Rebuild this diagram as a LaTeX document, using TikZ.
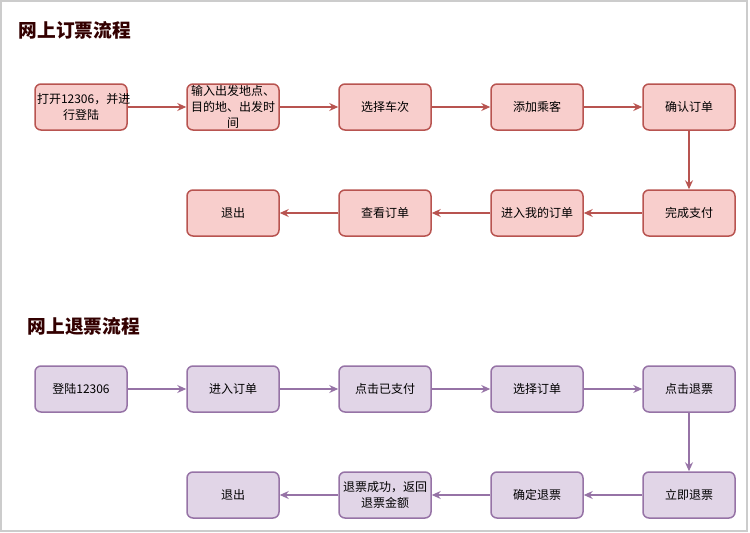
\documentclass[tikz,border=0pt]{standalone}
\usepackage{fontspec}
\setmainfont{Noto Sans CJK SC}
\usetikzlibrary{positioning,arrows.meta}
\definecolor{rfill}{HTML}{F8CECC}
\definecolor{rline}{HTML}{B85450}
\definecolor{pfill}{HTML}{E1D5E7}
\definecolor{pline}{HTML}{9673A6}
\definecolor{ttl}{HTML}{330000}
\tikzset{
  bx/.style={rectangle, rounded corners=6pt, minimum width=92pt, minimum height=46pt, text width=88pt, align=center, inner sep=1pt, line width=1.5pt, font=\fontsize{12}{14.5}\selectfont},
  bk/.style={bx, draw=rline, fill=rfill},
  rf/.style={bx, draw=pline, fill=pfill},
  ttl/.style={anchor=west, text=ttl, font=\bfseries\fontsize{18.7}{20}\selectfont},
  node distance=58.5pt
}

\begin{document}
\begin{tikzpicture}[x=1pt, y=-1pt, thick]
\useasboundingbox (0,0) rectangle (750,533);
\draw[black!20, line width=1.5pt] (1,1) rectangle (747,531);
% booking
\node[ttl] (t1) at (15,30) {网上订票流程};
\node[bk] (a1) at (81,107) {打开12306，并进\\[2pt]行登陆};
\node[bk, right=of a1] (a2) {输入出发地点、\\[1.5pt]目的地、出发时\\[1.5pt]间};
\node[bk, right=of a2] (a3) {选择车次};
\node[bk, right=of a3] (a4) {添加乘客};
\node[bk, right=of a4] (a5) {确认订单};
\node[bk, below=of a5] (a6) {完成支付};
\node[bk, left=of a6] (a7) {进入我的订单};
\node[bk, left=of a7] (a8) {查看订单};
\node[bk, left=of a8] (a9) {退出};
\path[draw=rline, line width=1.5pt, -{Stealth[length=9pt,width=8pt,inset=3pt]}]
(a1) edge (a2) (a2) edge (a3) (a3) edge (a4) (a4) edge (a5)
(a5) edge (a6) (a6) edge (a7) (a7) edge (a8) (a8) edge (a9);
% refund
\node[ttl] (t2) at (24,326) {网上退票流程};
\node[rf] (b1) at (81,389) {登陆12306};
\node[rf, right=of b1] (b2) {进入订单};
\node[rf, right=of b2] (b3) {点击已支付};
\node[rf, right=of b3] (b4) {选择订单};
\node[rf, right=of b4] (b5) {点击退票};
\node[rf, below=of b5] (b6) {立即退票};
\node[rf, left=of b6] (b7) {确定退票};
\node[rf, left=of b7] (b8) {退票成功，返回\\[2pt]退票金额};
\node[rf, left=of b8] (b9) {退出};
\path[draw=pline, line width=1.5pt, -{Stealth[length=9pt,width=8pt,inset=3pt]}]
(b1) edge (b2) (b2) edge (b3) (b3) edge (b4) (b4) edge (b5)
(b5) edge (b6) (b6) edge (b7) (b7) edge (b8) (b8) edge (b9);
\end{tikzpicture}
\end{document}
